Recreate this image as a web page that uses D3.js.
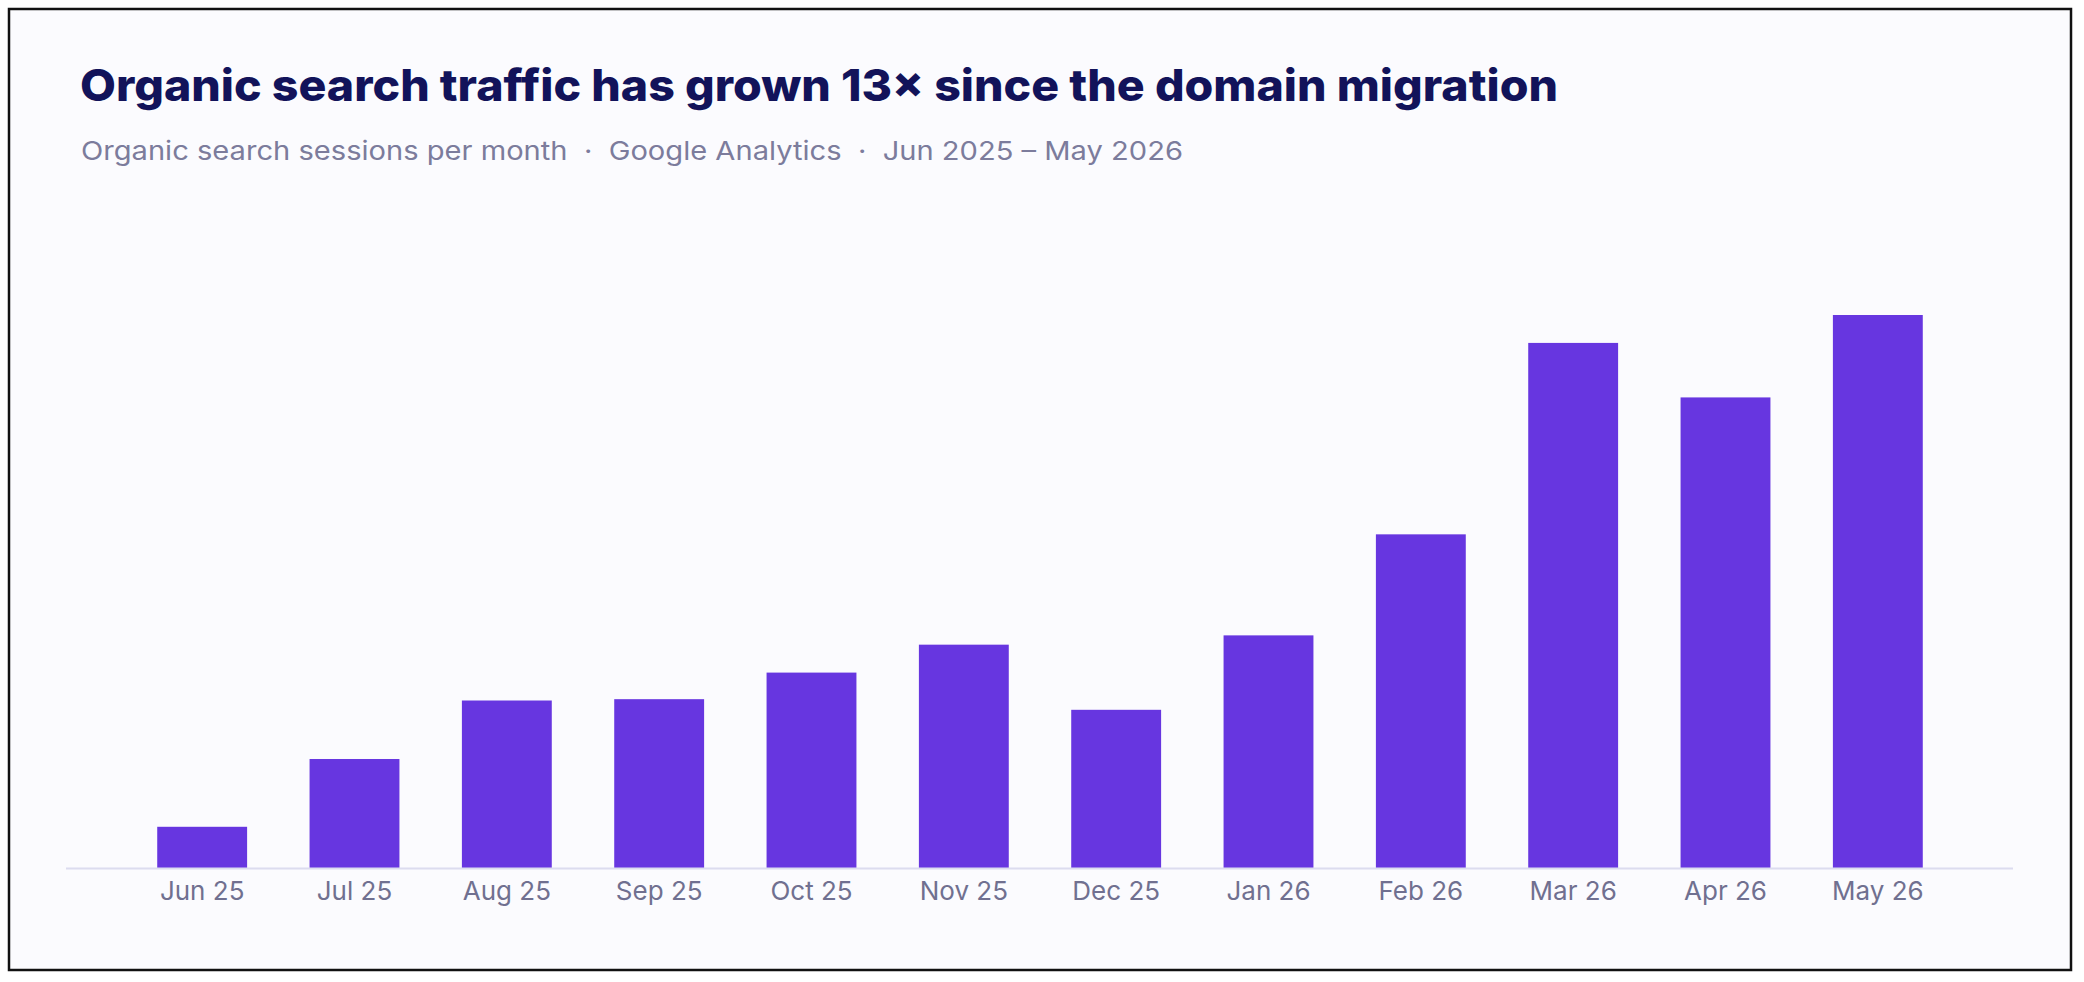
<!DOCTYPE html>
<html><head><meta charset="utf-8">
<script src="https://cdn.jsdelivr.net/npm/d3@7/dist/d3.min.js"></script>
<style>body{margin:0;background:#fff}svg{display:block}</style>
</head><body>
<script>
const months = ["Jun 25","Jul 25","Aug 25","Sep 25","Oct 25","Nov 25","Dec 25","Jan 26","Feb 26","Mar 26","Apr 26","May 26"];
const sessions = [3100,8200,12600,12700,14700,16800,11900,17500,25100,39500,35400,41600];
const title = "Organic search traffic has grown 13× since the domain migration";
const subtitle = "Organic search sessions per month  ·  Google Analytics  ·  Jun 2025 – May 2026";

const W=2084,H=982;
const svg=d3.select("body").append("svg").attr("width",W).attr("height",H);
svg.append("rect").attr("x",9).attr("y",9).attr("width",2062).attr("height",961)
  .attr("fill","#fbfbfe").attr("stroke","#111").attr("stroke-width",2.5);
svg.append("text").attr("x",80).attr("y",101).text(title)
  .attr("font-family","Inter, sans-serif").attr("font-weight",800).attr("font-size",44)
  .attr("fill","#12135a").attr("textLength",1478).attr("lengthAdjust","spacingAndGlyphs");
svg.append("text").attr("x",81).attr("y",160).text(subtitle).style("white-space","pre")
  .attr("font-family","Inter, sans-serif").attr("font-size",26).attr("fill","#7c7c9c")
  .attr("textLength",1102).attr("lengthAdjust","spacingAndGlyphs");

const base=868;
const x=d3.scaleBand().domain(months).range([126,1954]).paddingInner(0.41).paddingOuter(0.205);
const y=d3.scaleLinear().domain([0,41600]).range([base,315]);
svg.selectAll(".bar").data(sessions).join("rect")
  .attr("x",(d,i)=>x(months[i])).attr("width",x.bandwidth())
  .attr("y",d=>y(d)).attr("height",d=>base-y(d)).attr("fill","#6736e0");
svg.append("line").attr("x1",66).attr("x2",2013).attr("y1",base+0.5).attr("y2",base+0.5)
  .attr("stroke","#dcdcef").attr("stroke-width",2);
const ax=svg.append("g").attr("transform",`translate(0,${base})`)
  .call(d3.axisBottom(x).tickSize(0).tickPadding(14));
ax.select(".domain").remove();
ax.selectAll("text").attr("font-family","Inter, sans-serif").attr("font-size",26).attr("fill","#707090");
</script>
</body></html>
